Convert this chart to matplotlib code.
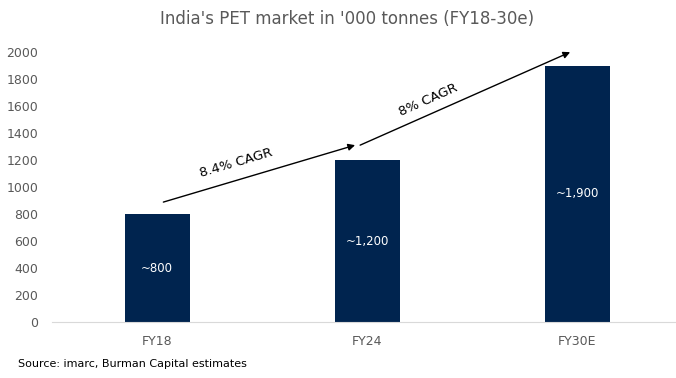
import numpy as np
import matplotlib.pyplot as plt

# --- Data ---
years = ['FY18', 'FY24', 'FY30E']
volumes = [800, 1200, 1900]          # '000 tonnes
bar_labels = ['~800', '~1,200', '~1,900']
cagr_labels = ['8.4% CAGR', '8% CAGR']

navy = '#00244f'
grey = '#595959'

fig = plt.figure(figsize=(6.76, 3.78), dpi=100)
ax = fig.add_axes([0.077, 0.148, 0.932, 0.714])

x = np.arange(len(years))
ax.bar(x, volumes, width=0.31, color=navy, zorder=2)

for xi, v, lab in zip(x, volumes, bar_labels):
    ax.text(xi, v / 2, lab, ha='center', va='center', color='white', fontsize=8.5)

ax.set_xlim(-0.5, 2.5)
ax.set_ylim(0, 2000)
ax.set_yticks(range(0, 2001, 200))
ax.set_xticks(x)
ax.set_xticklabels(years)
ax.tick_params(axis='both', length=0, labelsize=9, colors=grey)
ax.tick_params(axis='x', pad=9)
ax.tick_params(axis='y', pad=10)

for s in ['top', 'right', 'left']:
    ax.spines[s].set_visible(False)
ax.spines['bottom'].set_color('#d9d9d9')

# growth arrows
arrows = [((0.03, 889), (0.943, 1311)), ((0.967, 1311), (1.967, 2000))]
for start, end in arrows:
    ax.annotate('', xy=end, xytext=start,
                arrowprops=dict(arrowstyle='-|>', color='black', lw=1,
                                mutation_scale=10, shrinkA=0, shrinkB=0),
                annotation_clip=False)

ax.text(0.376, 1178, cagr_labels[0], rotation=16.5, ha='center', va='center', fontsize=9.5)
ax.text(1.29, 1644, cagr_labels[1], rotation=24, ha='center', va='center', fontsize=9.5)

fig.text(0.513, 0.95, "India's PET market in '000 tonnes (FY18-30e)", ha='center', va='center',
         fontsize=12, color=grey)
fig.text(0.027, 0.037, 'Source: imarc, Burman Capital estimates', ha='left', va='center',
         fontsize=8)

fig.savefig('out.png', dpi=100)
